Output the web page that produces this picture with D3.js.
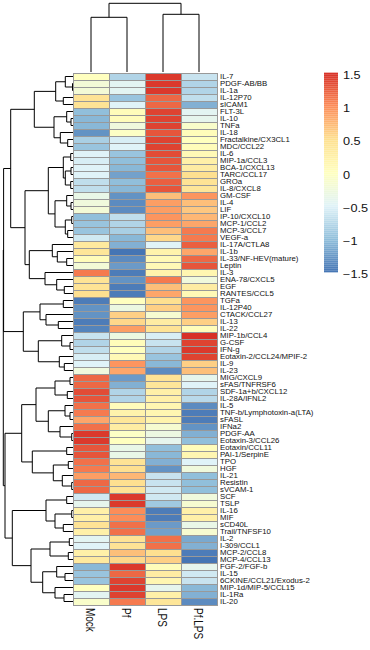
<!DOCTYPE html>
<html><head><meta charset="utf-8">
<script src="https://cdn.jsdelivr.net/npm/d3@7"></script>
<style>body{margin:0;background:#fff} svg{display:block}</style>
</head><body><svg id="c" width="370" height="650"></svg>
<script>
const rowLabels = ["IL-7","PDGF-AB/BB","IL-1a","IL-12P70","sICAM1","FLT-3L","IL-10","TNFa","IL-18","Fractalkine/CX3CL1","MDC/CCL22","IL-6","MIP-1a/CCL3","BCA-1/CXCL13","TARC/CCL17","GROa","IL-8/CXCL8","GM-CSF","IL-4","LIF","IP-10/CXCL10","MCP-1/CCL2","MCP-3/CCL7","VEGF-a","IL-17A/CTLA8","IL-1b","IL-33/NF-HEV(mature)","Leptin","IL-3","ENA-78/CXCL5","EGF","RANTES/CCL5","TGFa","IL-12P40","CTACK/CCL27","IL-13","IL-22","MIP-1b/CCL4","G-CSF","IFN-g","Eotaxin-2/CCL24/MPIF-2","IL-9","IL-23","MIG/CXCL9","sFAS/TNFRSF6","SDF-1a+b/CXCL12","IL-28A/IFNL2","IL-5","TNF-b/Lymphotoxin-a(LTA)","sFASL","IFNa2","PDGF-AA","Eotaxin-3/CCL26","Eotaxin/CCL11","PAI-1/SerpinE","TPO","HGF","IL-21","Resistin","sVCAM-1","SCF","TSLP","IL-16","MIF","sCD40L","Trail/TNFSF10","IL-2","I-309/CCL1","MCP-2/CCL8","MCP-4/CCL13","FGF-2/FGF-b","IL-15","6CKINE/CCL21/Exodus-2","MIP-1d/MIP-5/CCL15","IL-1Ra","IL-20"];
const colLabels = ["Mock","Pf","LPS","Pf.LPS"];

const mock  = [0.0,-0.2,-0.2,0.45,0.45,-1.0,-1.05,-1.05,-1.3,-0.85,-0.95,-0.5,-0.55,-0.5,-0.5,-0.7,-0.7,-0.35,-0.25,-0.2,-1.0,-0.95,-0.95,-0.6,0.35,0.4,0.05,-0.2,1.1,0.45,0.45,0.5,-1.45,-1.3,-1.3,-1.45,-1.4,-0.65,-0.8,-0.7,-0.55,-0.5,-0.25,1.2,1.2,1.35,1.3,1.15,1.1,0.85,1.15,1.45,1.45,1.3,1.3,1.15,1.1,0.9,1.2,1.2,-0.6,-0.4,0.25,0.25,0.45,0.25,-0.45,-0.5,0.25,0.35,-1.05,-0.95,-0.95,0.0,-0.45,-0.1];
const pf    = [-0.8,-0.45,-0.45,-0.95,-0.5,0.05,0.05,-0.25,-0.05,-0.55,-0.5,-0.95,-1.0,-1.05,-1.2,-1.0,-1.05,-1.3,-1.35,-1.35,-0.7,-0.8,-0.85,-1.05,-1.1,-1.5,-1.35,-1.25,-1.45,-1.3,-1.45,-1.45,0.0,-0.3,0.6,0.55,0.9,-0.3,0.05,0.0,0.1,0.95,0.85,-1.25,-1.1,-0.8,-0.8,0.05,0.2,0.4,0.3,-0.05,0.0,-0.35,-0.35,0.45,0.5,0.75,0.5,0.45,1.45,1.45,1.0,1.0,1.15,1.15,0.45,0.45,0.7,0.55,1.45,1.2,1.4,1.45,1.4,1.1];
const lps   = [1.45,1.45,1.45,1.2,1.2,1.4,1.4,1.4,1.3,1.4,1.4,1.35,1.3,1.3,1.15,1.25,1.3,0.7,0.9,0.9,0.95,0.9,0.7,0.55,-0.5,0.2,0.1,0.1,0.2,1.1,0.7,0.85,0.5,0.6,-0.15,0.3,0.45,-0.55,-0.65,-0.8,-0.95,-1.05,-1.35,0.45,0.4,0.25,0.25,0.15,0.15,0.2,-0.15,-0.3,-0.4,-1.0,-1.05,-1.1,-1.3,-0.65,-0.65,-0.6,-0.6,-0.9,-1.45,-1.45,-1.25,-1.2,1.15,1.15,0.5,0.6,0.05,0.3,0.15,-0.4,0.25,0.4];
const pflps = [-0.65,-0.8,-0.8,-0.7,-1.1,-0.45,-0.4,-0.1,0.05,0.0,0.05,0.1,0.25,0.3,0.5,0.45,0.4,0.95,0.7,0.65,0.75,0.85,1.1,1.1,1.25,0.85,1.2,1.3,0.15,-0.25,0.3,0.1,0.95,0.95,0.9,0.6,0.05,1.5,1.4,1.45,1.4,0.6,0.7,-0.4,-0.5,-0.8,-0.75,-1.35,-1.45,-1.45,-1.3,-1.1,-1.0,0.05,0.15,-0.5,-0.25,-1.0,-1.0,-1.0,-0.25,-0.15,0.25,0.25,-0.35,-0.15,-1.15,-1.1,-1.45,-1.5,-0.4,-0.6,-0.65,-1.05,-1.1,-1.35];

// dendrograms: [mergeHeight, left, right]; leaves are row/column indices
const rowTree = [69.7,
  [69.4,
    [62.3,
      [38.7,
        [17.3, [7.7, 0, [0.5, 1, 2]], [9.7, 3, 4]],
        [19, [6.3, 5, [2, 6, 7]], [12.7, 8, [5.3, 9, 10]]]],
      [48,
        [24.7,
          [9.7, [2.3, 11, 12], [7.7, [2, 13, 14], [2.3, 15, 16]]],
          [18, [6.3, 17, [2, 18, 19]], [7.7, [1.3, 20, 21], [5.3, 22, 23]]]],
        [43.7,
          [20.7, 24, [15.7, 25, [6.3, 26, 27]]],
          [28, 28, [16.3, 29, [8.7, 30, 31]]]]]],
    [49.7,
      [33, [9.7, 32, 33], [27, 34, [14.7, 35, 36]]],
      [34.7, [11.3, 37, [3, 38, 39]], [13.7, 40, [8.7, 41, 42]]]]],
  [68,
    [51.3,
      [37,
        [18, [3, 43, 44], [5.7, 45, 46]],
        [24.7, [8, 47, [3, 48, 49]], [13, 50, [1.3, 51, 52]]]],
      [40.7, [6.3, 53, 54], [19.7, [4.7, 55, 56], [10.7, 57, [1.3, 58, 59]]]]],
    [60.7,
      [27, [6.3, 60, 61], [18, [1.3, 62, 63], [9.7, 64, 65]]],
      [42,
        [23, [3.7, 66, 67], [4.7, 68, 69]],
        [30.3, [16.3, 70, [8, 71, 72]], [18, 73, [9, 74, 75]]]]]]];
const colTree = [68.7, [54.7, 0, 1], [57.7, 2, 3]];

const legendTicks = [1.5, 1, 0.5, 0, -0.5, -1, -1.5];
const palette = ["#4575B4","#91BFDB","#E0F3F8","#FFFFBF","#FEE090","#FC8D59","#D73027"];

const values = rowLabels.map((_, i) => [mock[i], pf[i], lps[i], pflps[i]]);

const svg = d3.select("#c");
const FONT = "'Liberation Sans', Arial, sans-serif";

const x = d3.scaleBand().domain(d3.range(colLabels.length)).range([73, 217]);
const y = d3.scaleBand().domain(d3.range(rowLabels.length)).range([73, 605]);
const color = d3.scaleLinear()
  .domain(d3.range(palette.length).map(i => -1.5 + i * 3 / (palette.length - 1)))
  .range(palette).clamp(true);

// cells
const cells = [];
values.forEach((row, i) => row.forEach((v, j) => cells.push({i, j, v})));
svg.append("g").selectAll("rect").data(cells).join("rect")
  .attr("x", d => x(d.j) + 0.5).attr("y", d => y(d.i) + 0.5)
  .attr("width", x.bandwidth()).attr("height", y.bandwidth())
  .attr("fill", d => color(d.v))
  .attr("stroke", "#999999").attr("stroke-width", 1);

// dendrogram helper
function collect(node, leafPos, segs) {
  if (typeof node === "number") return {h: 0, p: leafPos(node)};
  const l = collect(node[1], leafPos, segs), r = collect(node[2], leafPos, segs);
  segs.push({h: node[0], l, r});
  return {h: node[0], p: (l.p + r.p) / 2};
}

// row dendrogram
const hx = d3.scaleLinear().domain([0, rowTree[0]]).range([73, 3.3]);
const rowSegs = [];
collect(rowTree, i => y(i) + y.bandwidth() / 2, rowSegs);
svg.append("g").attr("fill", "none").attr("stroke", "#000").attr("stroke-width", 1)
  .selectAll("path").data(rowSegs).join("path")
  .attr("d", s => `M${hx(s.l.h)},${s.l.p}H${hx(s.h)}V${s.r.p}H${hx(s.r.h)}`);

// column dendrogram
const vy = d3.scaleLinear().domain([0, colTree[0]]).range([72, 3.3]);
const colSegs = [];
collect(colTree, j => x(j) + x.bandwidth() / 2, colSegs);
svg.append("g").attr("fill", "none").attr("stroke", "#000").attr("stroke-width", 1)
  .selectAll("path").data(colSegs).join("path")
  .attr("d", s => `M${s.l.p},${vy(s.l.h)}V${vy(s.h)}H${s.r.p}V${vy(s.r.h)}`);

// row labels
svg.append("g").selectAll("text").data(rowLabels).join("text")
  .attr("transform", (d, i) => `translate(220,${y(i) + y.bandwidth() / 2}) scale(1.1,1)`)
  .attr("dy", "0.35em")
  .style("font-family", FONT).style("font-size", "7.1px").attr("fill", "#111")
  .text(d => d);

// column labels
svg.append("g").selectAll("text").data(colLabels).join("text")
  .attr("transform", (d, j) => `translate(${x(j) + x.bandwidth() / 2 - 5},608) scale(1.2,1) rotate(90)`)
  .style("font-family", FONT).style("font-size", "10px").attr("fill", "#111")
  .text(d => d);

// legend
const ly = d3.scaleLinear().domain([-1.5, 1.5]).range([272.3, 72.7]);
const steps = d3.range(100).map(k => -1.5 + (k + 0.5) * 3 / 100);
svg.append("g").selectAll("rect").data(steps).join("rect")
  .attr("x", 324).attr("width", 14)
  .attr("y", v => ly(v) - 1.05).attr("height", 2.1)
  .attr("fill", v => color(v));
svg.append("g").selectAll("text").data(legendTicks).join("text")
  .attr("transform", v => `translate(343,${ly(v) + 2.6}) scale(1.27,1)`)
  .attr("dy", "0.35em")
  .style("font-family", FONT).style("font-size", "10px").attr("fill", "#111")
  .text(v => d3.format("")(v).replace("-", "-"));
</script></body></html>
